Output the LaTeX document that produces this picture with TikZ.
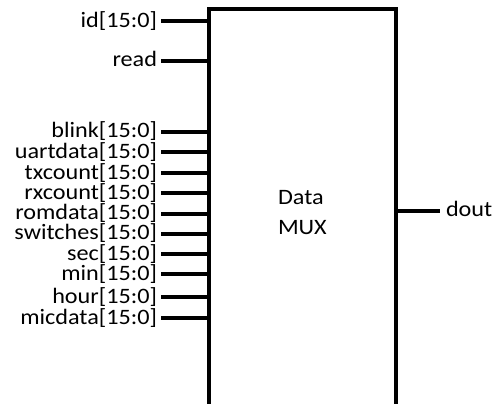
\documentclass[tikz,border=0pt]{standalone}
\usepackage{fontspec}
\setmainfont[FakeStretch=1.1]{Carlito}
\begin{document}
\begin{tikzpicture}[x=1pt,y=-1pt,
  wire/.style={line width=4pt},
  lbl/.style={font=\fontsize{22}{24}\selectfont, inner sep=0pt, outer sep=0pt}]
\useasboundingbox (0,0) rectangle (496,404);
% box
\coordinate (bl) at (209,410);
\coordinate (tl) at (209,9.5);
\coordinate (tr) at (396,9.5);
\coordinate (br) at (396,410);
\draw[wire, line join=miter] (bl) -- (tl) -- (tr) -- (br);
% inputs
\foreach \nm/\txt/\yy in {id/id[15:0]/21.5, read/read/61,
  blink/blink[15:0]/132, uart/uartdata[15:0]/152, tx/txcount[15:0]/173,
  rx/rxcount[15:0]/193, rom/romdata[15:0]/213.5, sw/switches[15:0]/233.5,
  sec/sec[15:0]/254, min/min[15:0]/274, hour/hour[15:0]/297, mic/micdata[15:0]/318}{
  \coordinate (\nm-e) at (209,\yy);
  \coordinate (\nm-s) at (161,\yy);
  \node[lbl, anchor=base east] (\nm) at (157,\yy+6) {\txt};
  \draw[wire] (\nm-s) -- (\nm-e);
}
% output
\coordinate (dout-s) at (396,211);
\coordinate (dout-e) at (440,211);
\draw[wire] (dout-s) -- (dout-e);
\node[lbl, anchor=base west] (dout) at (446,216.5) {dout};
% center label
\node[lbl, anchor=base west] (data) at (278,204.5) {Data};
\node[lbl, anchor=base west] (mux) at (278,234.5) {MUX};
\end{tikzpicture}
\end{document}
